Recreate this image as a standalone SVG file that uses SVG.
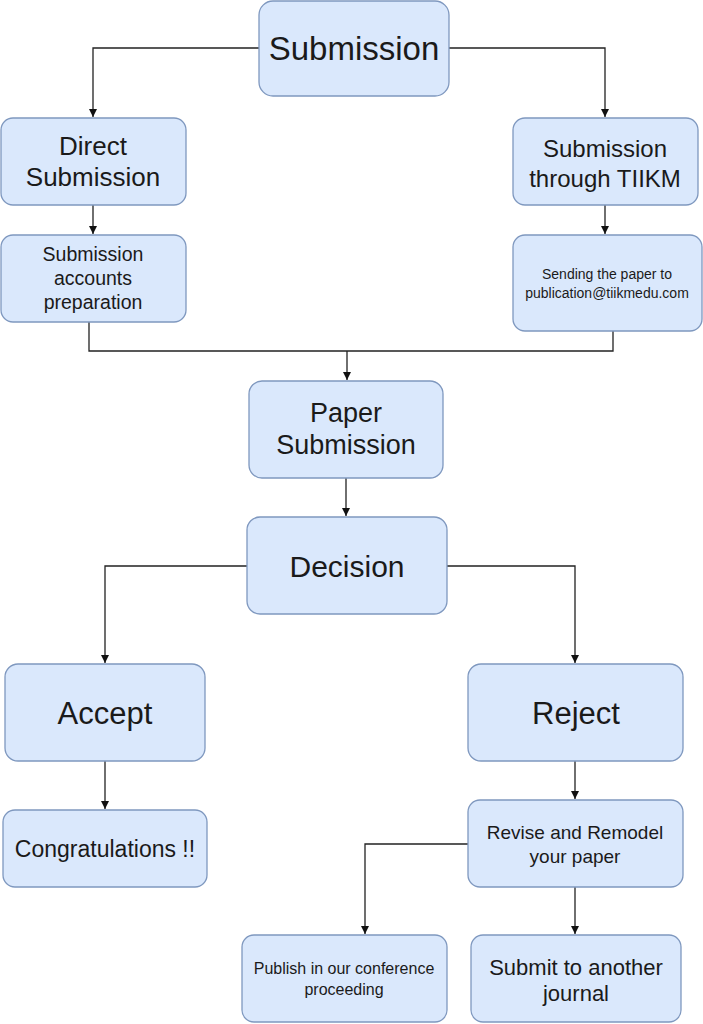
<svg xmlns="http://www.w3.org/2000/svg" width="703" height="1024" viewBox="0 0 703 1024">
<style>
.box{fill:#dae8fc;stroke:#7f98bf;stroke-width:1.3}
text{font-family:"Liberation Sans",Arial,sans-serif;fill:#1a1a1a;text-anchor:middle;dominant-baseline:central}
.c{fill:none;stroke:#222;stroke-width:1.3}
</style>
<defs>
<marker id="ah" viewBox="0 0 10 10" refX="10" refY="5" markerWidth="8" markerHeight="8" markerUnits="userSpaceOnUse" orient="auto">
<path d="M0,0 L10,5 L0,10 z" fill="#111"/>
</marker>
</defs>
<rect width="703" height="1024" fill="#ffffff"/>
<g id="connectors">
<path class="c" d="M259,48 H93 V117" marker-end="url(#ah)"/>
<path class="c" d="M449,48 H605 V117" marker-end="url(#ah)"/>
<path class="c" d="M93,205 V234" marker-end="url(#ah)"/>
<path class="c" d="M605,205 V234" marker-end="url(#ah)"/>
<path class="c" d="M89,322 V351 H613 V331"/>
<path class="c" d="M347,351 V380" marker-end="url(#ah)"/>
<path class="c" d="M346,478 V516" marker-end="url(#ah)"/>
<path class="c" d="M247,566 H105 V663" marker-end="url(#ah)"/>
<path class="c" d="M447,566 H575 V663" marker-end="url(#ah)"/>
<path class="c" d="M105,761 V809" marker-end="url(#ah)"/>
<path class="c" d="M575,761 V799" marker-end="url(#ah)"/>
<path class="c" d="M468,844 H365 V934" marker-end="url(#ah)"/>
<path class="c" d="M575,887 V934" marker-end="url(#ah)"/>
</g>
<g id="submission"><rect class="box" x="259" y="1" width="190" height="95" rx="14"/><text x="354" y="48" font-size="33">Submission</text></g>
<g id="direct"><rect class="box" x="1" y="118" width="185" height="87" rx="12"/><text x="93" y="146" font-size="26">Direct</text><text x="93" y="177" font-size="26">Submission</text></g>
<g id="tiikm"><rect class="box" x="513" y="118" width="185" height="87" rx="12"/><text x="605" y="148" font-size="24">Submission</text><text x="605" y="178" font-size="24">through TIIKM</text></g>
<g id="accounts"><rect class="box" x="1" y="235" width="185" height="87" rx="12"/><text x="93" y="254" font-size="19.5">Submission</text><text x="93" y="278" font-size="19.5">accounts</text><text x="93" y="302" font-size="19.5">preparation</text></g>
<g id="sending"><rect class="box" x="513" y="235" width="189" height="96" rx="12"/><text x="607" y="274" font-size="14">Sending the paper to</text><text x="607" y="293" font-size="14">publication@tiikmedu.com</text></g>
<g id="paper"><rect class="box" x="249" y="381" width="194" height="97" rx="13"/><text x="346" y="413" font-size="27">Paper</text><text x="346" y="445" font-size="27">Submission</text></g>
<g id="decision"><rect class="box" x="247" y="517" width="200" height="97" rx="13"/><text x="347" y="566" font-size="30">Decision</text></g>
<g id="accept"><rect class="box" x="5" y="664" width="200" height="97" rx="13"/><text x="105" y="713" font-size="31">Accept</text></g>
<g id="reject"><rect class="box" x="468" y="664" width="215" height="97" rx="13"/><text x="576" y="713" font-size="31">Reject</text></g>
<g id="congrats"><rect class="box" x="3" y="810" width="204" height="77" rx="12"/><text x="105" y="849" font-size="23">Congratulations !!</text></g>
<g id="revise"><rect class="box" x="468" y="800" width="215" height="87" rx="12"/><text x="575" y="832" font-size="19">Revise and Remodel</text><text x="575" y="856" font-size="19">your paper</text></g>
<g id="publish"><rect class="box" x="242" y="935" width="205" height="87" rx="12"/><text x="344" y="968" font-size="16">Publish in our conference</text><text x="344" y="989" font-size="16">proceeding</text></g>
<g id="another"><rect class="box" x="471" y="935" width="210" height="87" rx="12"/><text x="576" y="967" font-size="22">Submit to another</text><text x="576" y="993" font-size="22">journal</text></g>
</svg>
